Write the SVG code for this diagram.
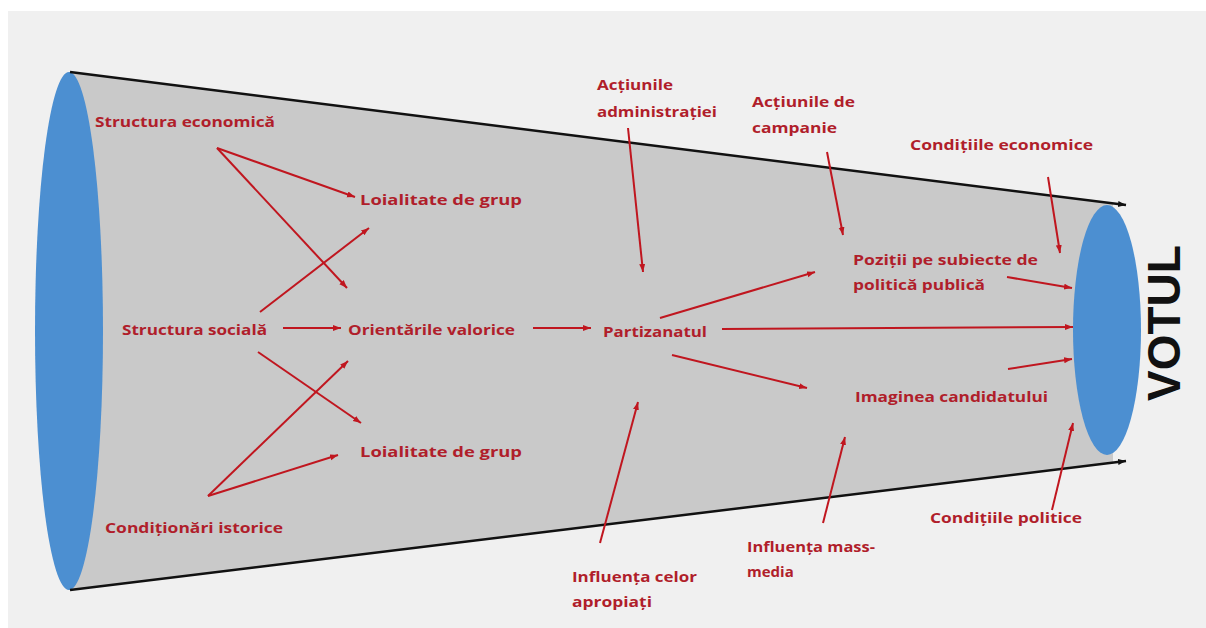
<svg xmlns="http://www.w3.org/2000/svg" width="1206" height="628" viewBox="0 0 1206 628">
<style>
.lbl{font-family:"Open Sans","Liberation Sans",sans-serif;font-weight:700;font-size:15px;fill:#b01e2b}
.con line{stroke:#c0161f;stroke-width:2;fill:none;marker-end:url(#ah)}
.edge{stroke:#111;stroke-width:2.5;fill:none;marker-end:url(#bh)}
</style>
<defs>
<marker id="ah" markerUnits="userSpaceOnUse" markerWidth="10" markerHeight="8" refX="8" refY="3" orient="auto">
<path d="M0,0 L8,3 L0,6 z" fill="#c0161f"/>
</marker>
<marker id="bh" markerUnits="userSpaceOnUse" markerWidth="10" markerHeight="8" refX="8" refY="3" orient="auto">
<path d="M0,0 L8,3 L0,6 z" fill="#111"/>
</marker>
</defs>
<rect width="1206" height="628" fill="#ffffff"/>
<rect x="8" y="11" width="1198" height="617" fill="#f0f0f0"/>
<g id="cone">
<polygon points="70,72 1113,203.5 1113,462.5 70,590" fill="#c9c9c9"/>
<ellipse cx="69" cy="331" rx="34" ry="259" fill="#4c8fd1"/>
<ellipse cx="1107" cy="330" rx="34" ry="125" fill="#4c8fd1"/>
<line class="edge" x1="70" y1="72" x2="1126" y2="205"/>
<line class="edge" x1="70" y1="590" x2="1126" y2="461"/>
</g>
<g id="votul"><text transform="translate(1180,323) rotate(-90)" text-anchor="middle" font-family="'Liberation Sans',Arial,sans-serif" font-weight="700" font-size="46" fill="#111">VOTUL</text></g>
<g class="con" id="connectors">
<line x1="217" y1="148" x2="355" y2="197"/>
<line x1="217" y1="148" x2="347" y2="288"/>
<line x1="260" y1="312" x2="369" y2="228"/>
<line x1="283" y1="328" x2="341" y2="328"/>
<line x1="258" y1="352" x2="361" y2="423"/>
<line x1="208" y1="496" x2="348" y2="361"/>
<line x1="208" y1="496" x2="338" y2="455"/>
<line x1="533" y1="328" x2="591" y2="328"/>
<line x1="628" y1="128" x2="643" y2="272"/>
<line x1="600" y1="543" x2="638" y2="402"/>
<line x1="660" y1="318" x2="815" y2="272"/>
<line x1="722" y1="329" x2="1073" y2="327"/>
<line x1="672" y1="355" x2="807" y2="388"/>
<line x1="827" y1="152" x2="843" y2="235"/>
<line x1="1048" y1="177" x2="1060" y2="253"/>
<line x1="1007" y1="277" x2="1072" y2="288"/>
<line x1="1008" y1="369" x2="1072" y2="359"/>
<line x1="823" y1="523" x2="845" y2="437"/>
<line x1="1052" y1="510" x2="1073" y2="423"/>
</g>
<g id="n-structura-economica"><text class="lbl" x="95" y="127" textLength="180" lengthAdjust="spacingAndGlyphs">Structura economică</text></g>
<g id="n-loialitate-1"><text class="lbl" x="360" y="205" textLength="162" lengthAdjust="spacingAndGlyphs">Loialitate de grup</text></g>
<g id="n-structura-sociala"><text class="lbl" x="122" y="335" textLength="145" lengthAdjust="spacingAndGlyphs">Structura socială</text></g>
<g id="n-orientarile"><text class="lbl" x="348" y="335" textLength="167" lengthAdjust="spacingAndGlyphs">Orientările valorice</text></g>
<g id="n-partizanatul"><text class="lbl" x="603" y="337" textLength="104" lengthAdjust="spacingAndGlyphs">Partizanatul</text></g>
<g id="n-loialitate-2"><text class="lbl" x="360" y="457" textLength="162" lengthAdjust="spacingAndGlyphs">Loialitate de grup</text></g>
<g id="n-conditionari"><text class="lbl" x="105" y="533" textLength="178" lengthAdjust="spacingAndGlyphs">Condiționări istorice</text></g>
<g id="n-actiunile-adm"><text class="lbl" x="597" y="90" textLength="76" lengthAdjust="spacingAndGlyphs">Acțiunile</text><text class="lbl" x="597" y="117" textLength="120" lengthAdjust="spacingAndGlyphs">administrației</text></g>
<g id="n-actiunile-camp"><text class="lbl" x="752" y="107" textLength="103" lengthAdjust="spacingAndGlyphs">Acțiunile de</text><text class="lbl" x="752" y="133" textLength="85" lengthAdjust="spacingAndGlyphs">campanie</text></g>
<g id="n-cond-economice"><text class="lbl" x="910" y="150" textLength="183" lengthAdjust="spacingAndGlyphs">Condițiile economice</text></g>
<g id="n-pozitii"><text class="lbl" x="853" y="265" textLength="185" lengthAdjust="spacingAndGlyphs">Poziții pe subiecte de</text><text class="lbl" x="853" y="290" textLength="132" lengthAdjust="spacingAndGlyphs">politică publică</text></g>
<g id="n-imaginea"><text class="lbl" x="855" y="402" textLength="193" lengthAdjust="spacingAndGlyphs">Imaginea candidatului</text></g>
<g id="n-cond-politice"><text class="lbl" x="930" y="523" textLength="152" lengthAdjust="spacingAndGlyphs">Condițiile politice</text></g>
<g id="n-mass-media"><text class="lbl" x="747" y="552" textLength="128" lengthAdjust="spacingAndGlyphs">Influența mass-</text><text class="lbl" x="747" y="577">media</text></g>
<g id="n-apropiati"><text class="lbl" x="572" y="582" textLength="125" lengthAdjust="spacingAndGlyphs">Influența celor</text><text class="lbl" x="572" y="607" textLength="80" lengthAdjust="spacingAndGlyphs">apropiați</text></g>
</svg>
